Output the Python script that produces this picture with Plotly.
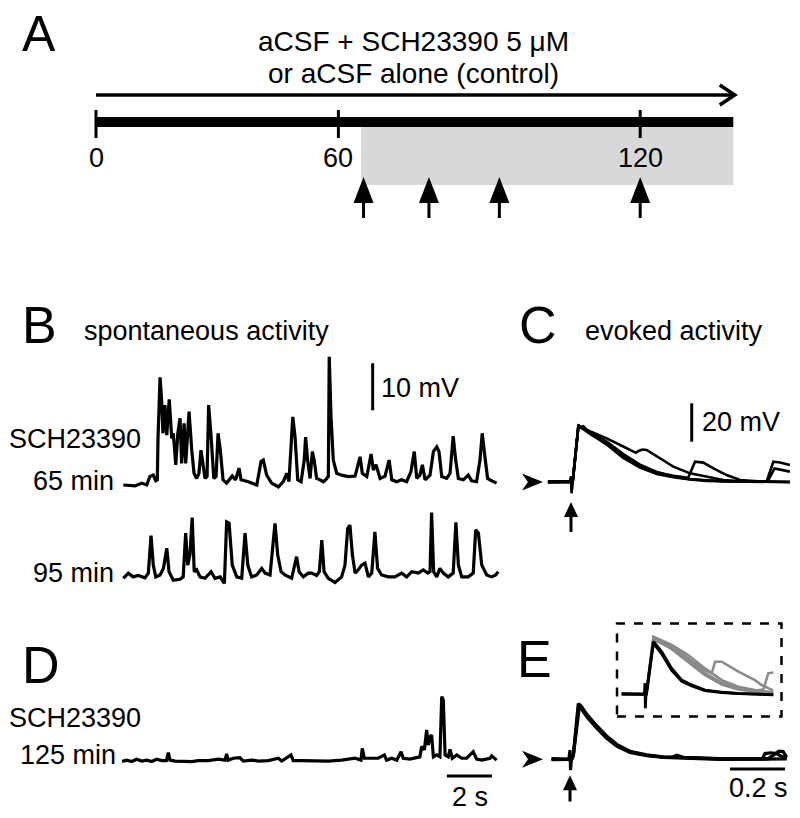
import plotly.graph_objects as go

W, H = 800, 818
FONT = "Liberation Sans, Arial, Helvetica, sans-serif"

# ---------------- data ----------------
# Panel A: experimental timeline (minutes)
timeline_ticks = [0, 60, 120]
timeline_tick_labels = ["0", "60", "120"]
timeline_end = 138.5
arrow_end = 138.8
treatment_start = 64.5
sample_times = [65, 78, 92, 120]
title_lines = ["aCSF + SCH23390 5 μM", "or aCSF alone (control)"]

# Panel B: spontaneous activity, (time s, mV rel. baseline)
b_65min = [(0.06,0),(0.58,-0.2),(0.88,0.4),(1.10,0),(1.24,1.8),(1.39,2.1),(1.50,0.9),(1.57,1.1),
    (1.60,9.9),(1.69,22.9),(1.76,18.1),(1.82,11.0),(1.91,17.0),(1.99,10.6),(2.10,18.2),(2.21,9.9),
    (2.28,11.0),(2.39,4.3),(2.48,11.0),(2.58,14.2),(2.65,4.6),(2.76,13.1),(2.83,4.6),(2.98,15.6),
    (3.10,7.4),(3.20,2.5),(3.32,1.4),(3.42,2.5),(3.51,7.4),(3.61,4.6),(3.69,1.4),(3.78,1.8),
    (3.85,17.0),(3.96,10.3),(4.08,1.4),(4.18,1.8),(4.27,11.0),(4.37,7.4),(4.49,1.1),(4.65,0.4),
    (4.90,1.9),(5.05,1.1),(5.20,3.6),(5.29,1.1),(5.61,0.7),(5.99,0),(6.18,5.0),(6.28,5.3),
    (6.43,2.1),(6.65,0.4),(6.95,-0.4),(7.17,0.7),(7.32,2.5),(7.42,0.7),(7.59,14.5),(7.69,10.3),
    (7.81,1.1),(7.96,0.7),(8.10,5.3),(8.16,10.2),(8.25,5.3),(8.36,1.4),(8.46,7.1),(8.55,5.0),
    (8.65,1.4),(8.80,1.1),(8.95,0.7),(9.05,1.1),(9.17,1.8),(9.21,27.3),(9.29,14.5),(9.39,5.3),
    (9.54,2.5),(9.76,2.1),(10.06,1.8),(10.36,1.9),(10.58,6.0),(10.68,2.5),(10.88,1.8),(11.07,6.6),
    (11.17,3.2),(11.29,4.3),(11.47,1.4),(11.69,1.9),(11.87,5.3),(11.99,1.1),(12.21,0.7),(12.43,1.1),
    (12.65,0.7),(12.84,2.8),(12.99,7.1),(13.10,1.4),(13.24,2.1),(13.35,4.3),(13.47,1.1),(13.69,2.1),
    (13.84,7.1),(13.99,8.1),(14.09,7.1),(14.21,1.8),(14.43,1.4),(14.58,2.5),(14.72,10.4),(14.83,5.3),
    (14.95,1.4),(15.17,1.1),(15.39,2.1),(15.54,0.9),(15.76,0.7),(15.91,5.3),(16.01,11.0),(16.13,6.0),
    (16.25,1.4),(16.43,0.9),(16.65,0.4)]

b_95min = [(0.06,-0.7),(0.28,0.4),(0.50,-0.4),(0.72,-0.1),(1.02,-0.6),(1.17,0.4),(1.29,8.4),(1.39,2.1),
    (1.50,-0.4),(1.69,0),(1.84,1.4),(1.99,5.7),(2.09,0.7),(2.28,-1.1),(2.58,-0.9),(2.72,-0.4),
    (2.83,8.9),(2.92,2.1),(3.02,4.3),(3.12,12.2),(3.21,0.7),(3.32,1.1),(3.47,-0.4),(3.69,-0.7),
    (3.96,0.7),(4.13,-0.7),(4.36,-0.4),(4.55,-1.8),(4.65,11.3),(4.76,11.0),(4.90,2.1),(5.10,-0.4),
    (5.32,-0.7),(5.47,8.9),(5.59,2.1),(5.76,-0.4),(5.99,0),(6.21,1.4),(6.36,0.4),(6.58,0),
    (6.80,11.0),(6.92,4.3),(7.07,0.7),(7.24,0),(7.54,-0.7),(7.76,3.9),(7.87,0.7),(8.06,-0.4),
    (8.28,0.4),(8.43,0.4),(8.65,-0.1),(8.77,0.7),(8.88,7.4),(8.98,0.7),(9.17,-0.7),(9.47,-1.6),
    (9.76,-0.4),(9.91,2.1),(10.03,9.9),(10.13,10.6),(10.24,4.3),(10.36,0.4),(10.50,1.1),(10.65,2.1),
    (10.80,2.5),(10.95,-0.4),(11.10,0.4),(11.24,9.2),(11.36,1.4),(11.54,0),(11.84,-0.4),(12.13,-0.4),
    (12.43,0.4),(12.65,-0.4),(12.88,0.7),(13.17,0.4),(13.39,1.1),(13.59,0.4),(13.69,0.7),(13.76,13.3),
    (13.85,0.7),(13.99,-0.4),(14.13,1.4),(14.28,0.4),(14.50,-0.4),(14.72,0.4),(14.84,11.2),(14.95,2.1),
    (15.10,-0.4),(15.39,-0.4),(15.61,0.4),(15.72,9.6),(15.84,8.9),(15.99,2.1),(16.21,0),(16.43,-0.4),
    (16.61,0),(16.72,0.7)]

# Panel D: spontaneous activity at 125 min
d_125min = [(0.0,0.1),(0.21,0.4),(0.43,0.1),(0.65,0.6),(0.88,0.2),(1.10,0.4),(1.32,0.1),(1.54,0.6),
    (1.76,0.3),(1.97,0.3),(2.06,2.0),(2.13,0.4),(2.36,0.2),(2.65,0.2),(3.10,0.1),(3.39,0.3),
    (3.84,0.3),(4.28,0.6),(4.58,0.4),(4.65,1.7),(4.72,0.4),(4.95,0.8),(5.24,0.9),(5.39,0.2),
    (5.76,0.4),(6.06,0.2),(6.50,0.3),(6.95,0.8),(7.10,0.2),(7.51,1.5),(7.61,0.3),(7.99,0.3),
    (8.58,0.3),(9.17,0.2),(9.76,0.4),(10.06,0.6),(10.36,0.8),(10.62,0.4),(10.68,2.9),(10.77,0.8),
    (11.10,0.8),(11.39,0.8),(11.66,1.5),(11.76,0.4),(11.99,0.8),(12.21,0.4),(12.40,2.2),(12.50,0.8),
    (12.80,0.6),(13.02,0.8),(13.24,1.1),(13.32,3.3),(13.44,2.6),(13.54,6.8),(13.61,3.6),(13.69,5.4),
    (13.76,5.7),(13.84,1.1),(13.99,1.5),(14.13,1.1),(14.21,13.9),(14.28,13.2),(14.36,1.5),(14.50,1.1),
    (14.58,2.7),(14.68,0.8),(14.88,1.5),(15.10,0.8),(15.32,0.8),(15.61,2.2),(15.76,0.6),(15.99,0.4),
    (16.36,0.8),(16.43,1.3),(16.65,0.4)]

# Panel C: evoked responses (time s from stimulus, mV)
c_sweeps = [
    [(-0.084,0),(-0.004,0),(0,3),(0.002,-5.9),(0.005,0),(0.008,1.5),(0.027,29.7),(0.035,28.5),(0.045,29),
     (0.069,25.3),(0.13,19.5),(0.19,12.5),(0.251,7.5),(0.312,4.2),(0.372,2.5),(0.433,1.3),(0.493,0.6),
     (0.6,0.2),(0.70,0),(0.712,0.5),(0.736,10.6),(0.76,10.2),(0.796,8.9)],
    [(-0.084,0.3),(-0.004,0.3),(0,1),(0.003,-4),(0.006,0),(0.027,28.8),(0.04,28),(0.069,26),(0.13,21),
     (0.19,14.5),(0.251,9),(0.312,5.2),(0.372,3),(0.433,1.6),(0.493,0.8),(0.6,0.3),(0.715,0.3),
     (0.74,7.1),(0.796,5.4)],
    [(-0.084,-0.2),(-0.004,-0.2),(0.006,0),(0.027,29),(0.069,26.5),(0.13,22.7),(0.19,18.5),(0.236,15.2),
     (0.245,16.2),(0.26,16.9),(0.275,16.7),(0.324,12.3),(0.372,8),(0.433,4.5),(0.493,2.8),(0.554,1.0),
     (0.615,0.3),(0.796,0)],
    [(-0.084,0.1),(-0.004,0.1),(0.006,0),(0.027,29.3),(0.069,25.8),(0.13,20.5),(0.19,14),(0.251,8.5),
     (0.312,5),(0.372,3.2),(0.42,2.3),(0.427,2.5),(0.451,10.6),(0.481,10.1),(0.518,7.1),(0.566,3.6),
     (0.615,1.0),(0.68,0.3),(0.796,0)],
    [(-0.084,0),(-0.004,0),(0.006,0),(0.027,29.5),(0.069,25),(0.13,20),(0.19,13),(0.251,8),(0.312,4.6),
     (0.372,2.7),(0.433,1.4),(0.55,0.4),(0.796,0)],
]

# Panel E: evoked responses with SCH23390
e_sweeps = [
    [(-0.067,0),(-0.004,0),(0,4.8),(0.002,-5.6),(0.005,0),(0.012,2),(0.030,29),(0.043,27.2),(0.061,22.9),
     (0.097,16.8),(0.133,11.6),(0.170,7.3),(0.218,3.8),(0.279,2.1),(0.339,1.2),(0.37,1.0),(0.388,2.1),
     (0.40,1.6),(0.412,1.0),(0.545,0.3),(0.667,0.3),(0.70,0.4),(0.709,3.0),(0.73,3.4),(0.751,3.0),
     (0.77,1.5),(0.788,0.7)],
    [(-0.067,0.3),(-0.004,0.3),(0.006,0),(0.012,2),(0.035,28.5),(0.061,23.5),(0.097,17.5),(0.133,12.2),
     (0.170,7.8),(0.218,4.2),(0.279,2.3),(0.339,1.3),(0.412,0.8),(0.545,0.2),(0.72,0.2),(0.74,2.2),
     (0.76,4.2),(0.775,4.0),(0.788,1.0)],
    [(-0.067,-0.2),(-0.004,-0.2),(0.006,0),(0.012,2),(0.032,28.2),(0.061,22.2),(0.097,16.2),(0.133,11.0),
     (0.170,6.9),(0.218,3.5),(0.279,1.9),(0.339,1.0),(0.412,0.6),(0.545,0.0),(0.788,0.2)],
]

# Inset: SCH23390 (black) vs control (gray), compressed time base
inset_black = [
    [(-0.136,0),(-0.004,0),(0,5.8),(0.002,-7.3),(0.006,0),(0.010,2),(0.049,27.4),(0.058,26.6),(0.098,22.2),
     (0.156,13.5),(0.215,7.4),(0.273,4.9),(0.351,2.2),(0.449,1.1),(0.546,0.5),(0.75,-0.3)],
    [(-0.136,0.3),(-0.004,0.3),(0.008,0),(0.012,2),(0.049,26.5),(0.098,21),(0.156,12.5),(0.215,6.8),
     (0.273,4.3),(0.351,1.9),(0.449,0.9),(0.546,0.4),(0.75,-0.2)],
]
inset_gray = [
    [(-0.136,0.5),(-0.004,0.5),(0.01,2),(0.049,30),(0.156,25.7),(0.253,20.4),(0.351,13.5),(0.449,7.4),
     (0.546,4.0),(0.643,2.2),(0.75,1.1)],
    [(-0.136,0.3),(-0.004,0.3),(0.01,2),(0.049,29),(0.156,23.5),(0.253,17),(0.351,10),(0.449,5),
     (0.546,2.5),(0.643,1.4),(0.75,0.8)],
    [(-0.136,0.4),(-0.004,0.4),(0.01,2),(0.049,29.5),(0.156,25),(0.253,19),(0.351,12.5),(0.39,11),
     (0.41,17),(0.449,17),(0.48,15.2),(0.546,11.8),(0.643,7.4),(0.682,4.8),(0.75,2.0)],
    [(-0.136,0.6),(-0.004,0.6),(0.01,2),(0.049,28.5),(0.156,24),(0.253,18),(0.351,11),(0.449,6),
     (0.546,3.2),(0.643,2),(0.692,2.5),(0.721,10.9),(0.75,11.4)],
]

# scale bars
b_scale_mv = 10
d_scale_s = 2
c_scale_mv = 20
e_scale_s = 0.2

# ---------------- layout helpers ----------------
def py(y):
    return 1 - y / H

def px(x):
    return x / W

# Panel A schematic time axis: 5.03 px/min after 60 min, compressed before
A_PX_PER_MIN = 5.03
A_X60 = 338.4
EARLY = 4.04 / 5.03

def sched(t):
    return t if t >= 60 else 60 - (60 - t) * EARLY

B_PX_PER_S, B_PX_PER_MV = 22.5, 4.7
C_PX_PER_S, C_PX_PER_MV = 275.0, 1.92
I_PX_PER_S = 171.0

fig = go.Figure()

def add_line(xs, ys, xa, ya, color="black", width=3):
    fig.add_trace(go.Scatter(x=xs, y=ys, xaxis=xa, yaxis=ya, mode="lines",
                             line=dict(color=color, width=width), hoverinfo="skip",
                             showlegend=False))

def add_sweep(pairs, xa, ya, color="black", width=3):
    add_line([p[0] for p in pairs], [p[1] for p in pairs], xa, ya, color, width)

shapes = []
annotations = []

def text(s, x, y, size, xanchor="left"):
    annotations.append(dict(text=s, x=px(x), y=py(y), xref="paper", yref="paper",
                            xanchor=xanchor, yanchor="middle", showarrow=False,
                            font=dict(family=FONT, size=size, color="black")))

def head(xref, yref, xa, ya, path, filled=True, lw=0):
    shapes.append(dict(type="path", xref=xref, yref=yref, xsizemode="pixel", ysizemode="pixel",
                       xanchor=xa, yanchor=ya, path=path,
                       fillcolor="black" if filled else "rgba(0,0,0,0)",
                       line=dict(color="black", width=lw), layer="above"))

UP_A = "M0,0 L-10,-26 L10,-26 Z"
UP_S = "M0,0 L-7,-15 L7,-15 Z"
RIGHT_S = "M0,0 L-21,8.5 L-15,0 L-21,-8.5 Z"

# ---------------- Panel A ----------------
shapes.append(dict(type="rect", xref="x", yref="y", x0=sched(treatment_start), x1=sched(timeline_end),
                   y0=122, y1=185, fillcolor="#d8d8da", line=dict(width=0), layer="below"))
add_line([sched(0), sched(arrow_end)], [95, 95], "x", "y", width=3.5)
head("x", "y", sched(arrow_end), 95, "M-15,10 L0,0 L-15,-10", filled=False, lw=3.5)
add_line([sched(0), sched(timeline_end)], [122, 122], "x", "y", width=10)
tx, ty = [], []
for t in timeline_ticks:
    tx += [sched(t), sched(t), None]
    ty += [110, 138, None]
add_line(tx, ty, "x", "y", width=3)
for t, lab in zip(timeline_ticks, timeline_tick_labels):
    annotations.append(dict(text=lab, x=sched(t), y=158, xref="x", yref="y", xanchor="center",
                            yanchor="middle", showarrow=False,
                            font=dict(family=FONT, size=27, color="black")))
sx, sy = [], []
for t in sample_times:
    sx += [sched(t), sched(t), None]
    sy += [196, 218, None]
    head("x", "y", sched(t), 177, UP_A)
add_line(sx, sy, "x", "y", width=3)

text("A", 20, 34, 50)
text(title_lines[0], 413, 41, 28, "center")
text(title_lines[1], 413, 73, 28, "center")

# ---------------- Panel B ----------------
add_sweep(b_65min, "x2", "y2", width=3.2)
add_sweep(b_95min, "x2", "y3", width=3.2)
b_bar_t, b_bar_top = 11.14, 25.9
add_line([b_bar_t, b_bar_t], [b_bar_top - b_scale_mv, b_bar_top], "x2", "y2", width=3)

text("B", 20, 325, 52)
text("spontaneous activity", 82, 331, 27)
text("SCH23390", 143, 439, 27, "right")
text("65 min", 116, 481, 27, "right")
text("95 min", 116, 573, 27, "right")
text("10 mV", 379, 388, 27)

# ---------------- Panel C ----------------
for sw in c_sweeps:
    add_sweep(sw, "x3", "y5", width=2.6)
c_bar_t, c_bar_top = 0.439, 41.0
add_line([c_bar_t, c_bar_t], [c_bar_top - c_scale_mv, c_bar_top], "x3", "y5", width=3)
head("x3", "y5", -0.102, 0, RIGHT_S)
head("x3", "y5", 0, -10.4, UP_S)
add_line([0, 0], [-17, -26], "x3", "y5", width=3)

text("C", 517, 325, 52)
text("evoked activity", 583, 331, 27)
text("20 mV", 700, 422, 27)

# ---------------- Panel D ----------------
add_sweep(d_125min, "x2", "y4", width=3.2)
d_bar_t0, d_bar_v = 14.44, -2.98
add_line([d_bar_t0, d_bar_t0 + d_scale_s], [d_bar_v, d_bar_v], "x2", "y4", width=3)
text("D", 20, 665, 52)
text("SCH23390", 143, 718, 27, "right")
text("125 min", 118, 755, 27, "right")
text("2 s", 470, 797, 27, "center")

# ---------------- Panel E ----------------
for sw in e_sweeps:
    add_sweep(sw, "x4", "y6", width=3.2)
e_bar_t0, e_bar_v = 0.582, -5.05
add_line([e_bar_t0, e_bar_t0 + e_scale_s], [e_bar_v, e_bar_v], "x4", "y6", width=3)
head("x4", "y6", -0.098, 0, RIGHT_S)
head("x4", "y6", 0, -8.3, UP_S)
add_line([0, 0], [-15, -22], "x4", "y6", width=3)
for sw in inset_gray:
    add_sweep(sw, "x5", "y7", color="#8a8a8a", width=2.5)
for sw in inset_black:
    add_sweep(sw, "x5", "y7", width=2.8)
shapes.append(dict(type="rect", xref="paper", yref="paper", x0=px(617), x1=px(781.5),
                   y0=py(716.5), y1=py(623.5), line=dict(color="black", width=2.5, dash="dash"),
                   fillcolor="rgba(0,0,0,0)"))
text("E", 515, 659, 52)
text("0.2 s", 758, 788, 27, "center")

# ---------------- axes ----------------
ax = dict(visible=False, fixedrange=True)
fig.update_layout(
    width=W, height=H, margin=dict(l=0, r=0, t=0, b=0),
    paper_bgcolor="white", plot_bgcolor="rgba(0,0,0,0)", showlegend=False,
    xaxis=dict(ax, domain=[0, 1], range=[60 - A_X60 / A_PX_PER_MIN, 60 + (W - A_X60) / A_PX_PER_MIN]),
    yaxis=dict(ax, domain=[py(230), 1], range=[230, 0]),
    xaxis2=dict(ax, domain=[px(122), px(500)], range=[0, 378 / B_PX_PER_S], anchor="y2"),
    yaxis2=dict(ax, domain=[py(500), py(340)], range=[-15 / B_PX_PER_MV, 145 / B_PX_PER_MV], anchor="x2"),
    yaxis3=dict(ax, domain=[py(595), py(505)], range=[-20 / B_PX_PER_MV, 70 / B_PX_PER_MV], anchor="x2"),
    yaxis4=dict(ax, domain=[py(785), py(680)], range=[-23 / B_PX_PER_MV, 82 / B_PX_PER_MV], anchor="x2"),
    xaxis3=dict(ax, domain=[px(520), 1], range=[-51 / C_PX_PER_S, 229 / C_PX_PER_S], anchor="y5"),
    yaxis5=dict(ax, domain=[py(540), py(390)], range=[-58 / C_PX_PER_MV, 92 / C_PX_PER_MV], anchor="x3"),
    xaxis4=dict(ax, domain=[px(520), 1], range=[-50 / C_PX_PER_S, 230 / C_PX_PER_S], anchor="y6"),
    yaxis6=dict(ax, domain=[0, py(690)], range=[-58.7 / C_PX_PER_MV, 69.3 / C_PX_PER_MV], anchor="x4"),
    xaxis5=dict(ax, domain=[px(610), px(790)], range=[-35 / I_PX_PER_S, 145 / I_PX_PER_S], anchor="y7"),
    yaxis7=dict(ax, domain=[py(725), py(615)], range=[-30.7 / C_PX_PER_MV, 79.3 / C_PX_PER_MV], anchor="x5"),
    shapes=shapes, annotations=annotations,
)

fig.write_html("out.html", config={"displayModeBar": False, "staticPlot": True},
               post_script="document.body.style.margin='0px';")
